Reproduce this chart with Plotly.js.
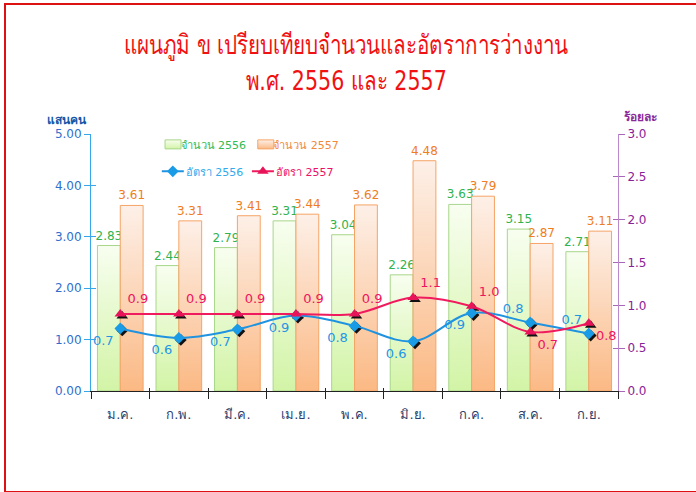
<!DOCTYPE html>
<html>
<head>
<meta charset="utf-8">
<script src="https://cdn.plot.ly/plotly-3.0.1.min.js"></script>
<style>
html,body{margin:0;padding:0;background:#fff;}
#chart{position:absolute;left:0;top:0;width:696px;height:492px;}
#frame{position:absolute;left:4px;top:3px;width:720px;height:486px;border:2px solid #dd1111;pointer-events:none;}
</style>
</head>
<body>
<div id="chart"></div>
<div id="frame"></div>
<script>
const months = ['ม.ค.','ก.พ.','มี.ค.','เม.ย.','พ.ค.','มิ.ย.','ก.ค.','ส.ค.','ก.ย.'];
const count2556 = [2.83, 2.44, 2.79, 3.31, 3.04, 2.26, 3.63, 3.15, 2.71];
const count2557 = [3.61, 3.31, 3.41, 3.44, 3.62, 4.48, 3.79, 2.87, 3.11];
const rate2556 = [0.73, 0.62, 0.72, 0.88, 0.76, 0.58, 0.91, 0.80, 0.67];
const rate2557 = [0.90, 0.90, 0.90, 0.90, 0.90, 1.09, 0.99, 0.69, 0.79];
const pos2556 = ['bottom left','bottom left','bottom left','bottom left','bottom left','bottom left','bottom left','top left','top left'];
const pos2557 = ['top right','top right','top right','top right','top right','top right','top right','bottom right','bottom right'];
const titleLine1 = 'แผนภูมิ ข เปรียบเทียบจำนวนและอัตราการว่างงาน';
const titleLine2 = 'พ.ศ. 2556 และ 2557';

const F = 'Tahoma, "DejaVu Sans", "Noto Sans", sans-serif';
const noData = months.map(()=>null);

const data = [
  {type:'bar', name:'จำนวน 2556', x:months, y:count2556,
   marker:{color:'#e4f9c8', line:{color:'#a8d68a', width:1}},
   text:count2556.map(v=>v.toFixed(2)), textposition:'outside', cliponaxis:false, constraintext:'none',
   textfont:{color:'#2fb34e', size:12, family:F}, legend:'legend', hoverinfo:'skip'},
  {type:'bar', name:'จำนวน 2557', x:months, y:count2557,
   marker:{color:'#fcd3b4', line:{color:'#f5a466', width:1}},
   text:count2557.map(v=>v.toFixed(2)), textposition:'outside', cliponaxis:false, constraintext:'none',
   textfont:{color:'#ef7d22', size:12, family:F}, legend:'legend2', hoverinfo:'skip'},
  {type:'scatter', mode:'markers', x:months, y:noData, yaxis:'y2', showlegend:false, hoverinfo:'skip'},
  {type:'scatter', mode:'markers', x:months, y:rate2556, xaxis:'x2', yaxis:'y3', showlegend:false,
   marker:{symbol:'diamond', size:9, color:'#111'}, hoverinfo:'skip'},
  {type:'scatter', mode:'markers', x:months, y:rate2557, xaxis:'x2', yaxis:'y3', showlegend:false,
   marker:{symbol:'triangle-up', size:10, color:'#111'}, hoverinfo:'skip'},
  {type:'scatter', mode:'lines+markers+text', name:'อัตรา 2556',
   x:months, y:rate2556, xaxis:'x3', yaxis:'y4', line:{color:'#1f93e0', width:2, shape:'spline'},
   marker:{symbol:'diamond', size:9, color:'#1a9be6'},
   text:rate2556.map(v=>v.toFixed(1)), textposition:pos2556, cliponaxis:false,
   textfont:{color:'#1f95e6', size:13, family:F}, legend:'legend3', hoverinfo:'skip'},
  {type:'scatter', mode:'lines+markers+text', name:'อัตรา 2557',
   x:months, y:rate2557, xaxis:'x3', yaxis:'y4', line:{color:'#f01a5e', width:2, shape:'spline'},
   marker:{symbol:'triangle-up', size:10, color:'#e8145a'},
   text:rate2557.map(v=>v.toFixed(1)), textposition:pos2557, cliponaxis:false,
   textfont:{color:'#ee1460', size:13, family:F}, legend:'legend4', hoverinfo:'skip'},
  {type:'scatter', mode:'markers', x:months, y:noData, xaxis:'x4', yaxis:'y5', showlegend:false, hoverinfo:'skip'},
  {type:'scatter', mode:'markers', x:months, y:noData, xaxis:'x4', yaxis:'y6', showlegend:false, hoverinfo:'skip'}
];

const dx = 2/58.5, dy = 2/86;
const legBase = {orientation:'h', xanchor:'left', yanchor:'top', bgcolor:'rgba(0,0,0,0)', itemwidth:30};
const layout = {
  width:696, height:492,
  margin:{l:91, r:78, t:134, b:101},
  paper_bgcolor:'#fff', plot_bgcolor:'#fff',
  font:{family:F, size:12},
  barmode:'group', bargap:0.22, bargroupgap:0,
  xaxis:{type:'category', range:[-0.5,8.5], showline:true, linecolor:'#222', linewidth:1,
    ticks:'outside', tickson:'boundaries', ticklen:7, tickcolor:'#222',
    tickfont:{color:'#2b3f6b', size:13, family:F}, ticklabelstandoff:11, showgrid:false, zeroline:false, fixedrange:true},
  xaxis2:{type:'category', overlaying:'x', range:[-0.5-dx, 8.5-dx], visible:false, fixedrange:true},
  xaxis3:{type:'category', overlaying:'x', range:[-0.5, 8.5], visible:false, fixedrange:true},
  xaxis4:{type:'category', overlaying:'x', anchor:'y', range:[-0.5, 8.5], showline:false, showticklabels:false,
    ticks:'inside', tickson:'boundaries', ticklen:3, tickcolor:'#222', showgrid:false, zeroline:false, fixedrange:true},
  yaxis:{range:[0,5], dtick:1, tickformat:'.2f', showline:true, linecolor:'#35a8ec', linewidth:1,
    ticks:'outside', ticklen:6, tickcolor:'#35a8ec', tickfont:{color:'#2f6fcc', size:12, family:F},
    showgrid:false, zeroline:false, fixedrange:true},
  yaxis2:{overlaying:'y', side:'right', range:[0,3], dtick:0.5, tickformat:'.1f', showline:true,
    linecolor:'#bb88cc', linewidth:1, ticks:'outside', ticklen:6, tickcolor:'#aa66bb',
    tickfont:{color:'#882299', size:12, family:F}, showgrid:false, zeroline:false, fixedrange:true},
  yaxis3:{overlaying:'y', range:[0+dy, 3+dy], visible:false, fixedrange:true},
  yaxis4:{overlaying:'y', range:[0, 3], visible:false, fixedrange:true},
  yaxis5:{overlaying:'y', anchor:'x', side:'left', range:[0,5], dtick:1, showline:false, showticklabels:false,
    ticks:'inside', ticklen:5, tickcolor:'#35a8ec', showgrid:false, zeroline:false, fixedrange:true},
  yaxis6:{overlaying:'y', anchor:'x', side:'right', range:[0,3], dtick:0.5, showline:false, showticklabels:false,
    ticks:'inside', ticklen:5, tickcolor:'#aa66bb', showgrid:false, zeroline:false, fixedrange:true},
  legend: Object.assign({}, legBase, {x:0.094, y:1.016, font:{size:11, family:F, color:'#33bb55'}}),
  legend2:Object.assign({}, legBase, {x:0.27, y:1.016, font:{size:11, family:F, color:'#ef8a3c'}}),
  legend3:Object.assign({}, legBase, {x:0.104, y:0.911, font:{size:11, family:F, color:'#33aaee'}}),
  legend4:Object.assign({}, legBase, {x:0.275, y:0.911, font:{size:11, family:F, color:'#ee1166'}}),
  annotations:[
    {text:titleLine1, xref:'paper', yref:'paper', x:0.483, y:1.346, xanchor:'center', yanchor:'middle',
     showarrow:false, font:{color:'#f01212', size:27, family:F}},
    {text:titleLine2, xref:'paper', yref:'paper', x:0.483, y:1.21, xanchor:'center', yanchor:'middle',
     showarrow:false, font:{color:'#f01212', size:27, family:F}},
    {text:'<b>แสนคน</b>', xref:'paper', yref:'paper', x:-0.046, y:1.054, xanchor:'center', yanchor:'middle',
     showarrow:false, font:{color:'#1456a8', size:12, family:F}},
    {text:'<b>ร้อยละ</b>', xref:'paper', yref:'paper', x:1.042, y:1.066, xanchor:'center', yanchor:'middle',
     showarrow:false, font:{color:'#8a2a99', size:12, family:F}}
  ]
};

function addGrad(defs, id, top, bottom){
  const ns='http://www.w3.org/2000/svg';
  const g=document.createElementNS(ns,'linearGradient');
  g.setAttribute('id',id); g.setAttribute('x1','0'); g.setAttribute('y1','0'); g.setAttribute('x2','0'); g.setAttribute('y2','1');
  [[0,top],[1,bottom]].forEach(([o,c])=>{const s=document.createElementNS(ns,'stop'); s.setAttribute('offset',o); s.setAttribute('stop-color',c); g.appendChild(s);});
  defs.appendChild(g);
}

Plotly.newPlot('chart', data, layout, {staticPlot:true, displayModeBar:false}).then(gd=>{
  const svg = gd.querySelector('svg.main-svg');
  let defs = svg.querySelector('defs');
  addGrad(defs,'gGreen','#f8fef0','#d2f4a6');
  addGrad(defs,'gOrange','#fdf0e8','#fbb984');
  const grads=['gGreen','gOrange'];
  gd.querySelectorAll('.barlayer .trace').forEach((tr,i)=>{
    tr.querySelectorAll('path').forEach(p=>{p.style.fill='url(#'+grads[i]+')';});
  });
  gd.querySelectorAll('g.traces').forEach(t=>{
    const txt=t.textContent;
    const isG = txt.indexOf('จำนวน 2556')>=0, isO = txt.indexOf('จำนวน 2557')>=0;
    const isL = txt.indexOf('อัตรา')>=0;
    if(isG||isO){
      const p=t.querySelector('.legendpoints path');
      if(p){
        p.style.fill = isG ? 'url(#gGreen)' : 'url(#gOrange)';
        p.setAttribute('d','M4.5,-4.5H20.5V4.5H4.5Z');
      }
    } else if(isL){
      const ln=t.querySelector('.legendlines path');
      if(ln) ln.setAttribute('d','M16,0h22');
      const pt=t.querySelector('.legendpoints path');
      if(pt) pt.setAttribute('transform','translate(27,0)');
    }
  });
  // condense the title lines horizontally (reference uses a narrow Thai face)
  const texts = Array.from(gd.querySelectorAll('.annotation-text')).filter(t=>t.textContent===titleLine1||t.textContent===titleLine2);
  const first = texts.find(t=>t.textContent===titleLine1);
  if(first){
    const w = first.getBBox().width;
    const s = Math.min(1, 448 / w);
    texts.forEach(t=>{
      const b = t.getBBox();
      const cx = b.x + b.width/2;
      t.setAttribute('transform', 'translate('+cx+',0) scale('+s+',1) translate('+(-cx)+',0)');
    });
  }
});
</script>
</body>
</html>
